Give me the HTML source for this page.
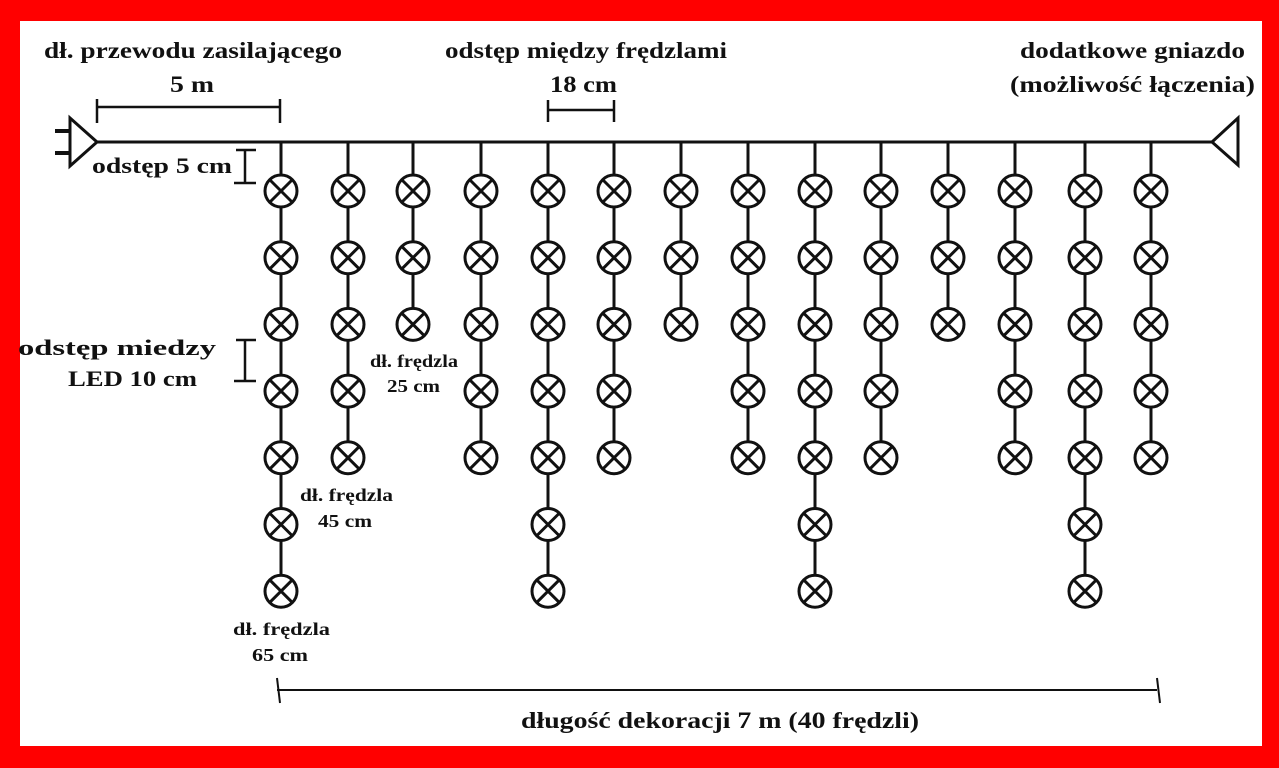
<!DOCTYPE html>
<html><head><style>
body{margin:0;width:1279px;height:768px;overflow:hidden;background:#f00}
svg{display:block}
text{font-family:"Liberation Serif",serif;font-weight:bold;fill:#111}
</style></head><body>
<svg width="1279" height="768" viewBox="0 0 1279 768">
<rect x="0" y="0" width="1279" height="768" fill="#f00"/>
<rect x="20" y="21" width="1242" height="725" fill="#fff"/>
<g stroke="#111" stroke-width="3" fill="none">
<line x1="97" y1="142" x2="1212" y2="142"/>
<polygon points="70,118 97,142 70,166" fill="#fff"/>
<line x1="55" y1="131" x2="70" y2="131" stroke-width="4"/>
<line x1="55" y1="153" x2="70" y2="153" stroke-width="4"/>
<polygon points="1212,142 1238,118 1238,165" fill="#fff"/>
<line x1="97" y1="107" x2="280" y2="107" stroke-width="2.5"/>
<line x1="97" y1="99" x2="97" y2="123" stroke-width="2.5"/>
<line x1="280" y1="99" x2="280" y2="123" stroke-width="2.5"/>
<line x1="548" y1="110" x2="614" y2="110" stroke-width="2.5"/>
<line x1="548" y1="100" x2="548" y2="122" stroke-width="2.5"/>
<line x1="614" y1="100" x2="614" y2="122" stroke-width="2.5"/>
<path d="M236 150 H256 M245 150 V183 M234 183 H256" stroke-width="2.5"/>
<path d="M236 340 H256 M245 340 V381 M234 381 H256" stroke-width="2.5"/>
<line x1="277" y1="690" x2="1157" y2="690" stroke-width="2"/>
<line x1="277" y1="678" x2="280" y2="703" stroke-width="2"/>
<line x1="1157" y1="678" x2="1160" y2="703" stroke-width="2"/>
</g>
<g id="strands" stroke="#111" stroke-width="3" fill="#fff"></g>
<g font-size="23">
<text x="44" y="58" textLength="298" lengthAdjust="spacingAndGlyphs">dł. przewodu zasilającego</text>
<text x="170" y="92" textLength="44" lengthAdjust="spacingAndGlyphs">5 m</text>
<text x="445" y="58" textLength="282" lengthAdjust="spacingAndGlyphs">odstęp między frędzlami</text>
<text x="550" y="92" textLength="67" lengthAdjust="spacingAndGlyphs">18 cm</text>
<text x="1020" y="58" textLength="225" lengthAdjust="spacingAndGlyphs">dodatkowe gniazdo</text>
<text x="1010" y="92" textLength="245" lengthAdjust="spacingAndGlyphs">(możliwość łączenia)</text>
<text x="521" y="728" textLength="398" lengthAdjust="spacingAndGlyphs">długość dekoracji 7 m (40 frędzli)</text>
</g>
<g font-size="22">
<text x="92" y="173" textLength="140" lengthAdjust="spacingAndGlyphs">odstęp 5 cm</text>
<text x="18" y="355" textLength="198" lengthAdjust="spacingAndGlyphs">odstęp miedzy</text>
<text x="68" y="386" textLength="129" lengthAdjust="spacingAndGlyphs">LED 10 cm</text>
</g>
<g font-size="18">
<text x="370" y="367" textLength="88" lengthAdjust="spacingAndGlyphs">dł. frędzla</text>
<text x="387" y="392" textLength="53" lengthAdjust="spacingAndGlyphs">25 cm</text>
<text x="300" y="501" textLength="93" lengthAdjust="spacingAndGlyphs">dł. frędzla</text>
<text x="318" y="527" textLength="54" lengthAdjust="spacingAndGlyphs">45 cm</text>
<text x="233" y="635" textLength="97" lengthAdjust="spacingAndGlyphs">dł. frędzla</text>
<text x="252" y="661" textLength="56" lengthAdjust="spacingAndGlyphs">65 cm</text>
</g>
</svg>
<script>
var xs=[281,348,413,481,548,614,681,748,815,881,948,1015,1085,1151];
var ns=[7,5,3,5,7,5,3,5,7,5,3,5,7,5];
var g=document.getElementById('strands'),s='';
for(var i=0;i<xs.length;i++){var x=xs[i],n=ns[i],last=191+(n-1)*66.7;
s+='<line x1="'+x+'" y1="142" x2="'+x+'" y2="'+last+'"/>';
for(var j=0;j<n;j++){var y=191+j*66.7,d=11;
s+='<circle cx="'+x+'" cy="'+y+'" r="16"/>';
s+='<line x1="'+(x-d)+'" y1="'+(y-d)+'" x2="'+(x+d)+'" y2="'+(y+d)+'"/><line x1="'+(x-d)+'" y1="'+(y+d)+'" x2="'+(x+d)+'" y2="'+(y-d)+'"/>';}}
g.innerHTML=s;
</script>
</body></html>
